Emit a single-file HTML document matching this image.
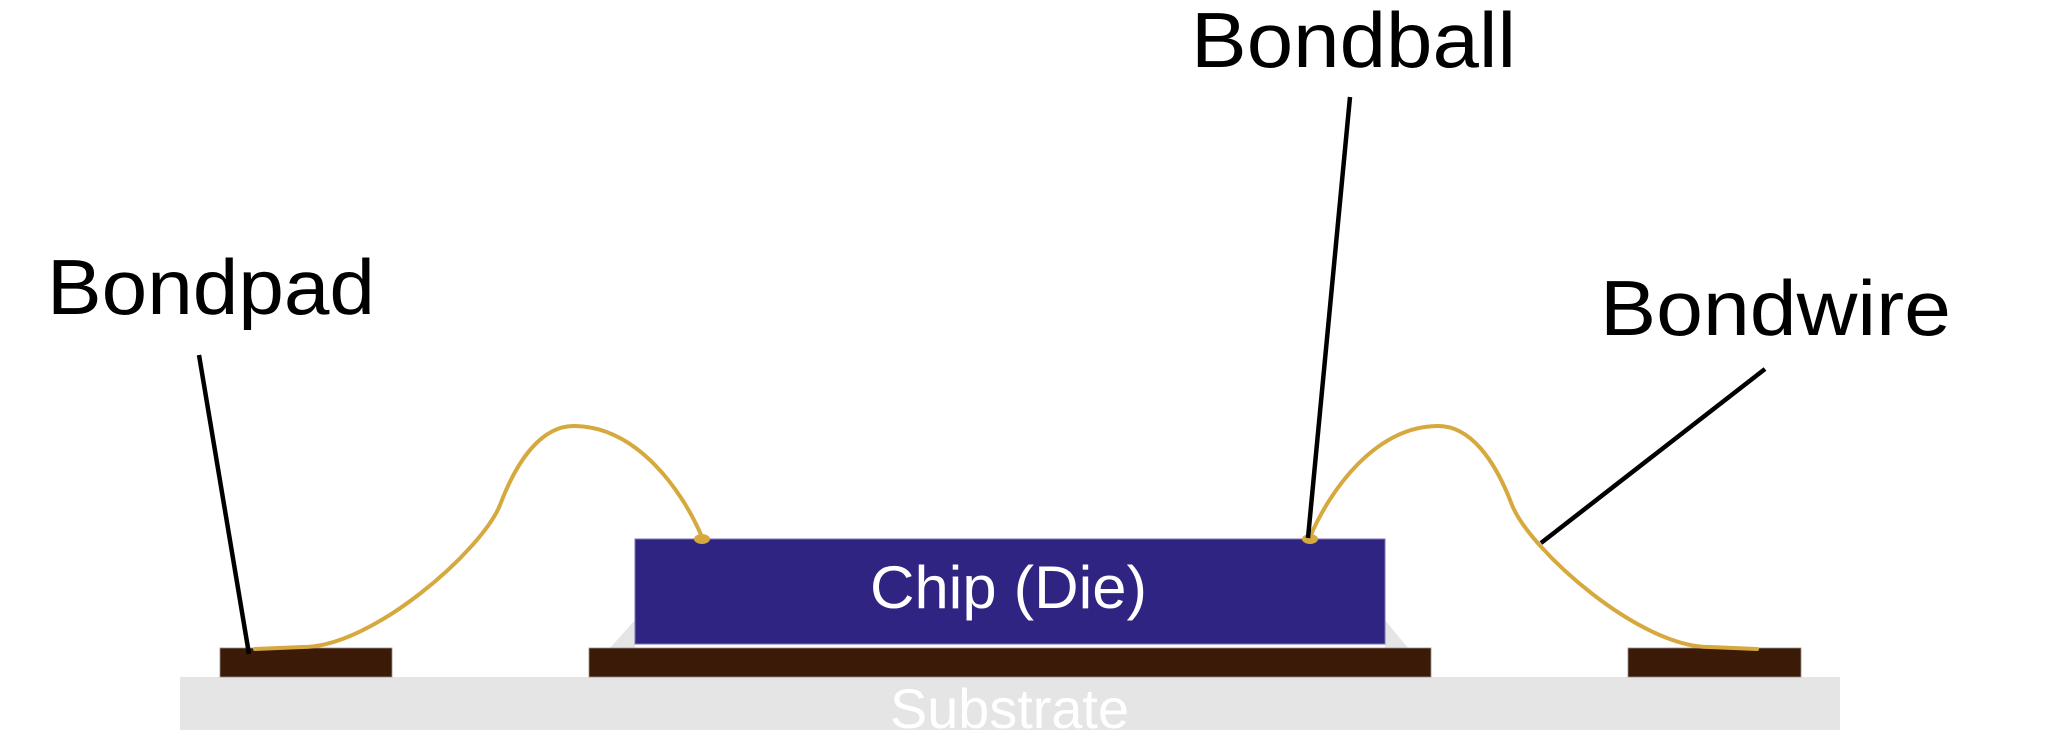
<!DOCTYPE html>
<html>
<head>
<meta charset="utf-8">
<style>
  html, body { margin: 0; padding: 0; background: #ffffff; }
  body { width: 2048px; height: 741px; overflow: hidden; }
  svg { display: block; }
  text { font-family: "Liberation Sans", "DejaVu Sans", sans-serif; }
</style>
</head>
<body>
<svg width="2048" height="741" viewBox="0 0 2048 741" xmlns="http://www.w3.org/2000/svg">
  <rect x="0" y="0" width="2048" height="741" fill="#ffffff"/>

  <!-- Substrate -->
  <rect x="180" y="677" width="1660" height="53" fill="#e5e5e5"/>
  <text x="890" y="728" font-size="56" fill="#ffffff" textLength="239" lengthAdjust="spacingAndGlyphs">Substrate</text>

  <!-- Glue fillet -->
  <polygon points="610,648 635,620 635,648" fill="#e5e5e5"/>
  <polygon points="1385,620 1408,648 1385,648" fill="#e5e5e5"/>

  <!-- Pads -->
  <rect x="220" y="648" width="172" height="29" fill="#3b1b08" stroke="#9a8f8a" stroke-width="0.8"/>
  <rect x="589" y="648" width="842" height="29" fill="#3b1b08" stroke="#9a8f8a" stroke-width="0.8"/>
  <rect x="1628" y="648" width="173" height="29" fill="#3b1b08" stroke="#9a8f8a" stroke-width="0.8"/>

  <!-- Chip -->
  <rect x="635" y="539" width="750" height="105" fill="#2f2481" stroke="#7a73b6" stroke-width="1"/>
  <text x="870" y="608" font-size="60" fill="#ffffff" textLength="277" lengthAdjust="spacingAndGlyphs">Chip (Die)</text>

  <!-- Bond balls -->
  <ellipse cx="702" cy="539" rx="8" ry="5" fill="#d6a93f"/>
  <ellipse cx="1310" cy="539" rx="8" ry="5" fill="#d6a93f"/>

  <!-- Right bondwire -->
  <path d="M1310,537 C1330,490 1375,427 1437,426 C1470,425 1495,460 1512,505 C1530,550 1640,648 1710,647 L1757,649"
        fill="none" stroke="#d6a93f" stroke-width="4" stroke-linecap="round"/>
  <!-- Left bondwire (mirror) -->
  <g transform="translate(2012,0) scale(-1,1)">
    <path d="M1310,537 C1330,490 1375,427 1437,426 C1470,425 1495,460 1512,505 C1530,550 1640,648 1710,647 L1757,649"
          fill="none" stroke="#d6a93f" stroke-width="4" stroke-linecap="round"/>
  </g>

  <!-- Leader lines -->
  <line x1="199" y1="355" x2="249" y2="654" stroke="#000000" stroke-width="4.5"/>
  <line x1="1350" y1="97" x2="1308" y2="538" stroke="#000000" stroke-width="4.5"/>
  <line x1="1765" y1="369" x2="1541" y2="543" stroke="#000000" stroke-width="4.5"/>

  <!-- Labels -->
  <text x="47" y="314" font-size="78" fill="#000000" textLength="328" lengthAdjust="spacingAndGlyphs">Bondpad</text>
  <text x="1191" y="67" font-size="78" fill="#000000" textLength="325" lengthAdjust="spacingAndGlyphs">Bondball</text>
  <text x="1600" y="335" font-size="78" fill="#000000" textLength="351" lengthAdjust="spacingAndGlyphs">Bondwire</text>
</svg>
</body>
</html>
